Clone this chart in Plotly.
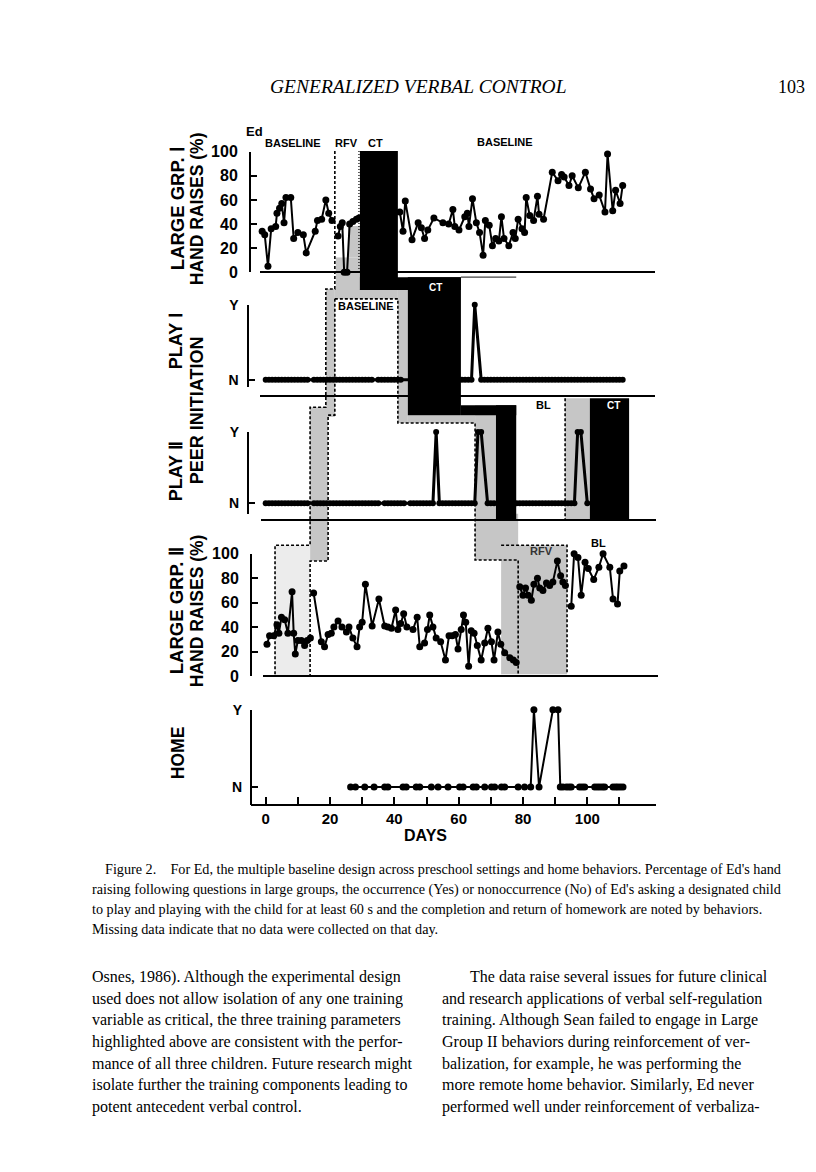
import plotly.graph_objects as go

W, H = 816, 1172

# ======================= DATA =======================
# Large Group I hand raises (%)
LG1_BL1_DAYS = [-1.1, -0.3, 0.7, 1.7, 3.1, 3.5, 4.3, 5.0, 5.7, 6.3, 7.8, 8.7, 10.0, 11.7, 12.6, 15.4, 16.1, 17.4, 18.7, 19.6, 20.6]
LG1_BL1_VALS = [34, 31, 5, 36, 38, 49, 53, 57, 41, 62, 62, 28, 33, 31, 16, 34, 43, 44, 60, 49, 43]
LG1_RFV_DAYS = [22.5, 23.2, 23.8, 24.4, 25.3, 26.1, 27.1, 28.2, 29.0]
LG1_RFV_VALS = [30, 38, 41, 0, 0, 40, 42, 44, 45]
LG1_BL2_DAYS = [41.7, 42.7, 43.4, 45.5, 47.4, 48.4, 49.4, 50.4, 52.3, 55.1, 56.9, 58.2, 58.8, 60.1, 61.9, 62.7, 63.2, 64.3,
                65.5, 66.5, 67.6, 68.3, 69.5, 70.5, 71.5, 72.5, 73.3, 74.1, 75.6, 76.9, 77.6, 78.5, 79.7, 80.5, 81.0, 82.1,
                83.3, 84.5, 85.0, 86.4, 89.1, 90.9, 92.0, 92.8, 94.3, 95.3, 97.2, 99.4, 101.0, 102.1, 103.7, 105.5, 106.3,
                107.9, 108.8, 110.2, 111.0]
LG1_BL2_VALS = [50, 34, 59, 27, 41, 37, 28, 35, 45, 41, 40, 52, 38, 35, 46, 49, 38, 61,
                41, 33, 14, 43, 39, 22, 28, 26, 46, 28, 22, 33, 28, 44, 36, 33, 62, 47,
                43, 63, 48, 44, 83, 76, 81, 79, 72, 80, 70, 83, 69, 61, 64, 50, 98,
                51, 68, 57, 72]

# Play I peer initiation (Y / N)
PLAY1_DAYS = [0, 1, 2, 3, 4, 5, 6, 7, 8, 9, 10, 11, 12, 13, 15, 16, 17, 18, 19, 20, 21, 22, 23, 24, 25, 26, 27, 28,
              29, 30, 31, 32, 33, 35, 36, 37, 38, 39, 40, 41, 42,
              61, 62, 63, 64, 65, 67, 68, 69, 70, 71, 72, 73, 74, 75, 76, 77, 78, 79, 80, 81, 82, 83, 84, 85, 86, 87,
              88, 89, 90, 91, 92, 93, 94, 95, 96, 97, 98, 99, 100, 101, 102, 103, 104, 105, 106, 107, 108, 109, 110, 111]
PLAY1_VALS = ['N', 'N', 'N', 'N', 'N', 'N', 'N', 'N', 'N', 'N', 'N', 'N', 'N', 'N', 'N', 'N', 'N', 'N',
              'N', 'N', 'N', 'N', 'N', 'N', 'N', 'N', 'N', 'N', 'N', 'N', 'N', 'N', 'N', 'N', 'N', 'N', 'N', 'N',
              'N', 'N', 'N',
              'N', 'N', 'N', 'N', 'Y', 'N', 'N', 'N', 'N', 'N', 'N', 'N', 'N', 'N', 'N', 'N', 'N', 'N', 'N', 'N',
              'N', 'N', 'N', 'N', 'N', 'N', 'N', 'N', 'N', 'N', 'N', 'N', 'N', 'N', 'N', 'N', 'N', 'N', 'N', 'N',
              'N', 'N', 'N', 'N', 'N', 'N', 'N', 'N', 'N', 'N']

# Play II peer initiation (Y / N)
PLAY2_DAYS = [0, 1, 2, 3, 4, 5, 6, 7, 8, 9, 10, 11, 12, 13, 15, 16, 17, 18, 19, 20, 21, 22, 23, 24, 25, 26, 27, 28,
              29, 30, 31, 32, 33, 34, 35, 37, 38, 39, 40, 41, 42, 43, 45, 46, 47, 48, 49, 50, 51, 52, 53, 54, 55,
              56, 57, 58, 59, 60, 61, 62, 63, 64, 65, 66, 67, 69, 70, 71,
              78, 79, 80, 81, 82, 83, 84, 85, 86, 87, 88, 89, 90, 91, 92, 93, 94, 95, 96, 97, 98, 100]
PLAY2_VALS = ['N', 'N', 'N', 'N', 'N', 'N', 'N', 'N', 'N', 'N', 'N', 'N', 'N', 'N', 'N', 'N', 'N', 'N', 'N', 'N',
              'N', 'N', 'N', 'N', 'N', 'N', 'N', 'N', 'N', 'N', 'N', 'N', 'N', 'N', 'N', 'N', 'N', 'N', 'N', 'N',
              'N', 'N', 'N', 'N', 'N', 'N', 'N', 'N', 'N', 'N', 'Y', 'N', 'N', 'N', 'N', 'N', 'N', 'N', 'N', 'N',
              'N', 'N', 'N', 'Y', 'Y', 'N', 'N', 'N',
              'N', 'N', 'N', 'N', 'N', 'N', 'N', 'N', 'N', 'N', 'N', 'N', 'N', 'N', 'N', 'N', 'N', 'N', 'N', 'Y',
              'Y', 'N']

# Large Group II hand raises (%)
LG2_BL1_DAYS = [0.4, 1.2, 2.5, 3.5, 4.1, 4.9, 5.9, 6.9, 8.2, 8.7, 9.2, 10.0, 11.1, 12.1, 12.9, 13.9]
LG2_BL1_VALS = [26, 33, 33, 42, 35, 48, 46, 35, 69, 35, 18, 29, 29, 25, 29, 31]
LG2_BL2_DAYS = [14.9, 17.3, 18.3, 19.4, 20.4, 21.2, 22.5, 23.7, 25.1, 25.9, 27.1, 28.4, 29.2, 30.0, 31.0, 33.1,
                35.2, 37.0, 38.0, 39.1, 40.4, 41.1, 42.0, 42.9, 43.9, 45.8, 47.1, 47.9, 49.4, 50.3, 51.0, 52.0,
                53.0, 54.4, 55.9, 57.0, 58.0, 59.0, 59.8, 60.8, 61.5, 62.2, 63.1, 63.9, 64.8, 65.8, 67.0, 68.1,
                69.1, 70.2, 71.0, 72.2, 73.1, 74.3, 75.9, 77.0, 77.9]
LG2_BL2_VALS = [68, 28, 24, 34, 35, 40, 45, 40, 36, 40, 31, 24, 40, 44, 75, 41,
                63, 41, 40, 39, 54, 38, 43, 51, 40, 38, 48, 24, 27, 38, 50, 40,
                31, 28, 13, 33, 33, 34, 22, 38, 50, 44, 8, 37, 35, 25, 13, 27,
                39, 28, 13, 36, 26, 19, 15, 13, 11]
LG2_RFV_DAYS = [79.0, 80.0, 80.8, 81.6, 82.6, 83.4, 84.5, 85.2, 86.2, 87.3, 88.3, 89.3, 90.7, 91.7, 92.4, 93.2]
LG2_RFV_VALS = [73, 66, 72, 66, 62, 75, 80, 72, 70, 76, 74, 77, 94, 82, 77, 74]
LG2_BL3_DAYS = [95.0, 95.9, 97.1, 98.1, 99.3, 100.3, 102.0, 103.6, 104.9, 107.0, 108.0, 109.4, 110.1, 111.4]
LG2_BL3_VALS = [57, 100, 97, 66, 93, 88, 79, 89, 100, 89, 63, 59, 86, 90]

# Home (homework returned Y / N)
HOME_DAYS = [26.4, 27.9, 30.8, 33.7, 37.0, 38.0, 42.7, 43.7, 46.8, 47.9, 51.5, 53.6, 56.7, 60.3, 61.4, 64.5, 65.5,
             68.1, 70.2, 71.2, 73.3, 74.3, 78.5, 80.5, 82.4, 83.4, 85.0, 89.3, 90.9, 91.6, 92.4, 93.5, 94.3, 95.0,
             97.6, 98.4, 99.2, 102.3, 103.1, 103.9, 104.7, 105.4, 108.0, 108.8, 109.5, 110.3, 111.1]
HOME_VALS = ['N', 'N', 'N', 'N', 'N', 'N', 'N', 'N', 'N', 'N', 'N', 'N', 'N', 'N', 'N', 'N', 'N',
             'N', 'N', 'N', 'N', 'N', 'N', 'N', 'N', 'Y', 'N', 'Y', 'Y', 'N', 'N', 'N', 'N', 'N',
             'N', 'N', 'N', 'N', 'N', 'N', 'N', 'N', 'N', 'N', 'N', 'N', 'N']

# Phase-change days
PH = {
    'lg2_a': 2.9, 'lg2_b': 13.8, 'p2_a': 18.7, 'p3_a': 19.4, 'lg1_rfv': 21.5, 'lg1_rfv_b': 25.6,
    'lg1_ct': 29.3, 'lg1_bl': 41.1, 'p1_ct': 44.2, 'p1_bl': 60.7, 'p2_rfv': 65.1, 'p2_ct': 71.6,
    'lg2_rfv_top': 73.2, 'p2_bl': 77.9, 'lg2_rfv': 78.5, 'p2_rfv2': 93.1, 'lg2_bl': 93.7,
    'p2_ct2': 100.8, 'p2_end': 113.0,
}

PCT_TICKS = [0, 20, 40, 60, 80, 100]
YN_CODE = {'N': 0, 'Y': 1}
DAY_TICKS = [0, 10, 20, 30, 40, 50, 60, 70, 80, 90, 100, 110]
DAY_TICKTEXT = ['0', '', '20', '', '40', '', '60', '', '80', '', '100', '']

# ======================= LAYOUT HELPERS =======================
X0_PX = 257.7
PX_PER_DAY = 3.216
SANS = 'Liberation Sans, Arial, Helvetica, sans-serif'
SERIF = 'Liberation Serif, Times New Roman, serif'
GRAY = '#c6c6c6'
LIGHT = '#ececec'


def day_px(d):
    return X0_PX + d * PX_PER_DAY


def px_day(px):
    return (px - X0_PX) / PX_PER_DAY


def xp(px):
    return px / W


def yp(py):
    return 1 - py / H


fig = go.Figure()


def series(days, vals, ax, lw=2.0, ms=7):
    fig.add_trace(go.Scatter(
        x=days, y=vals, mode='lines+markers', xaxis='x' + ax, yaxis='y' + ax,
        line=dict(color='black', width=lw), marker=dict(color='black', size=ms),
        cliponaxis=False, showlegend=False, hoverinfo='skip'))


series(LG1_BL1_DAYS, LG1_BL1_VALS, '')
series(LG1_RFV_DAYS, LG1_RFV_VALS, '')
series(LG1_BL2_DAYS, LG1_BL2_VALS, '')
series(PLAY1_DAYS, [YN_CODE[v] for v in PLAY1_VALS], '2', lw=3, ms=6)
series(PLAY2_DAYS, [YN_CODE[v] for v in PLAY2_VALS], '3', lw=3, ms=6)
series(LG2_BL1_DAYS, LG2_BL1_VALS, '4')
series(LG2_BL2_DAYS, LG2_BL2_VALS, '4')
series(LG2_RFV_DAYS, LG2_RFV_VALS, '4')
series(LG2_BL3_DAYS, LG2_BL3_VALS, '4')
series(HOME_DAYS, [YN_CODE[v] for v in HOME_VALS], '5', lw=2, ms=7)


# ---------------- axes ----------------
def xaxis(a, b, base_py, **kw):
    d = dict(domain=[xp(a), xp(b)], range=[px_day(a), px_day(b)], anchor='free', position=yp(base_py),
             showline=True, linecolor='black', linewidth=2, showgrid=False, zeroline=False,
             ticks='', showticklabels=False, fixedrange=True)
    d.update(kw)
    return d


def yaxis(top, bot, rng, xpos, tv, tt, fs=16, standoff=8):
    return dict(domain=[yp(bot), yp(top)], range=rng, anchor='free', position=xp(xpos),
                showline=True, linecolor='black', linewidth=2, showgrid=False, zeroline=False,
                ticks='inside', ticklen=6, tickwidth=2, tickcolor='black',
                tickvals=tv, ticktext=tt, ticklabelstandoff=standoff,
                tickfont=dict(family=SANS, size=fs, color='black', weight='bold'), fixedrange=True)


pct_text = [str(v) for v in PCT_TICKS]
layout_axes = dict(
    xaxis=xaxis(252, 647, 260),
    yaxis=yaxis(137.7, 260, [0, 100], 242, PCT_TICKS, pct_text),
    xaxis2=xaxis(252, 647, 386),
    yaxis2=yaxis(293, 376, [-0.092, 1], 239.5, [0, 1], ['N', 'Y'], fs=14, standoff=5),
    xaxis3=xaxis(253, 648, 511),
    yaxis3=yaxis(422, 505, [-0.148, 1], 240, [0, 1], ['N', 'Y'], fs=14, standoff=5),
    xaxis4=xaxis(255, 650, 670),
    yaxis4=yaxis(545.7, 669.7, [0, 100], 243, PCT_TICKS, pct_text),
    xaxis5=xaxis(243, 648, 801, ticks='inside', ticklen=7, tickwidth=2, tickcolor='black',
                 showticklabels=True, tickvals=DAY_TICKS, ticktext=DAY_TICKTEXT,
                 tickfont=dict(family=SANS, size=15, color='black', weight='bold')),
    yaxis5=yaxis(704, 801, [-0.239, 1], 243, [0, 1], ['N', 'Y'], fs=14, standoff=5),
)

# ---------------- phase shading & lines ----------------
shapes = []


def rect(d0, d1, top, bot, color):
    shapes.append(dict(type='rect', xref='paper', yref='paper', x0=xp(day_px(d0)), x1=xp(day_px(d1)),
                       y0=yp(bot), y1=yp(top), fillcolor=color, line=dict(width=0), layer='below'))


def dpath(points, dash='3px,2px', width=1.6, color='black'):
    path = 'M ' + ' L '.join('%.5f,%.5f' % (xp(day_px(d)), yp(py)) for d, py in points)
    shapes.append(dict(type='path', xref='paper', yref='paper', path=path,
                       line=dict(color=color, width=width, dash=dash), layer='below'))


# gray (reinforcement of verbalization) bands
rect(PH['lg1_rfv'] + 0.3, PH['lg1_ct'], 245, 278, GRAY)
rect(PH['lg1_rfv_b'], PH['lg1_ct'], 213, 245, GRAY)
rect(PH['p2_a'], PH['lg1_rfv'], 277, 407, GRAY)
rect(PH['lg1_rfv'], PH['lg1_bl'], 277, 287, GRAY)
rect(PH['lg1_bl'], PH['p1_ct'], 277, 413, GRAY)
rect(PH['lg2_b'], PH['p3_a'], 397, 553, GRAY)
rect(PH['lg2_a'], PH['lg2_b'], 537, 670, LIGHT)
rect(PH['p1_ct'], PH['p2_rfv'], 405, 413, GRAY)
rect(PH['p2_rfv'], PH['p2_ct'], 395, 520, GRAY)
rect(PH['p2_rfv'], PH['lg2_rfv'], 505, 552, GRAY)
rect(PH['lg2_rfv_top'], PH['lg2_bl'], 537, 668, GRAY)
rect(PH['p2_rfv2'], PH['p2_ct2'], 388, 511, GRAY)
# black (correspondence training) bands
rect(PH['lg1_ct'], PH['lg1_bl'], 137, 278, 'black')
rect(PH['lg1_ct'], PH['p1_bl'], 265, 278, 'black')
rect(PH['p1_ct'], PH['p1_bl'], 265, 405, 'black')
rect(PH['p1_bl'], PH['p2_bl'], 395, 405, 'black')
rect(PH['p2_ct'], PH['p2_bl'], 395, 512, 'black')
rect(PH['p2_ct2'], PH['p2_end'], 388, 511, 'black')

# dashed phase-change lines
dpath([(PH['lg1_rfv'], 137), (PH['lg1_rfv'], 277), (PH['p2_a'], 277), (PH['p2_a'], 397),
       (PH['lg2_b'], 397), (PH['lg2_b'], 537), (PH['lg2_a'], 537), (PH['lg2_a'], 670)])
dpath([(PH['lg1_rfv'], 287), (PH['lg1_rfv'], 405), (PH['p3_a'], 405), (PH['p3_a'], 553),
       (PH['lg2_b'], 553), (PH['lg2_b'], 670)])
dpath([(PH['lg1_rfv'], 287), (PH['lg1_bl'], 287), (PH['lg1_bl'], 413), (PH['p2_rfv'], 413),
       (PH['p2_rfv'], 552), (PH['lg2_rfv'], 552), (PH['lg2_rfv'], 668)])
dpath([(PH['lg2_rfv_top'], 537), (PH['lg2_bl'], 537), (PH['lg2_bl'], 668)])
dpath([(PH['p2_rfv2'], 388), (PH['p2_rfv2'], 511)])
dpath([(PH['lg1_ct'] - 0.3, 137), (PH['lg1_ct'] - 0.3, 260)], dash='1px,2px', width=1.2)
dpath([(PH['p1_bl'], 265), (PH['p2_bl'], 265)], dash='solid', width=1.2, color='#444')

# ---------------- text ----------------
ann = []


def txt(s, x, y, size, family=SANS, bold=True, color='black', xanchor='center', angle=0):
    f = dict(family=family, size=size, color=color)
    if bold:
        f['weight'] = 'bold'
    ann.append(dict(text=s, x=xp(x), y=yp(y), xref='paper', yref='paper', showarrow=False,
                    xanchor=xanchor, yanchor='middle', textangle=angle, font=f))


# chart labels
txt('Ed', 247, 117, 13)
txt('BASELINE', 285, 129, 11)
txt('RFV', 338, 129, 11)
txt('CT', 367, 129, 11)
txt('BASELINE', 497, 128, 11)
txt('BASELINE', 358, 294, 11)
txt('CT', 427, 275, 10, color='white')
txt('BL', 535, 395, 11)
txt('CT', 605, 395, 10, color='white')
txt('RFV', 533, 543, 11, color='#333')
txt('BL', 590, 535, 11)
# axis titles
txt('LARGE GRP. Ⅰ', 169, 195, 18.5, angle=-90)
txt('HAND RAISES (%)', 189, 196, 17.5, angle=-90)
txt('PLAY Ⅰ', 168, 330, 18, angle=-90)
txt('PEER INITIATION', 189, 400, 18, angle=-90)
txt('PLAY Ⅱ', 168, 462, 18, angle=-90)
txt('LARGE GRP. Ⅱ', 168, 604, 18.5, angle=-90)
txt('HAND RAISES (%)', 189, 604, 17.5, angle=-90)
txt('HOME', 170, 748, 17.5, angle=-90)
txt('DAYS', 418, 832, 16)

# page header
txt('<i>GENERALIZED VERBAL CONTROL</i>', 410, 72, 19.5, family=SERIF, bold=False)
txt('103', 799, 72, 18, family=SERIF, bold=False, xanchor='right')

# caption
CAPTION = [
    "Figure 2.\u2003For Ed, the multiple baseline design across preschool settings and home behaviors. Percentage of Ed's hand",
    "raising following questions in large groups, the occurrence (Yes) or nonoccurrence (No) of Ed's asking a designated child",
    "to play and playing with the child for at least 60 s and the completion and return of homework are noted by behaviors.",
    "Missing data indicate that no data were collected on that day.",
]
for i, line in enumerate(CAPTION):
    txt(line, 95 if i == 0 else 82, 866 + 20 * i, 14.2, family=SERIF, bold=False, xanchor='left')

LEFT_COL = [
    "Osnes, 1986). Although the experimental design",
    "used does not allow isolation of any one training",
    "variable as critical, the three training parameters",
    "highlighted above are consistent with the perfor-",
    "mance of all three children. Future research might",
    "isolate further the training components leading to",
    "potent antecedent verbal control.",
]
RIGHT_COL = [
    "The data raise several issues for future clinical",
    "and research applications of verbal self-regulation",
    "training. Although Sean failed to engage in Large",
    "Group II behaviors during reinforcement of ver-",
    "balization, for example, he was performing the",
    "more remote home behavior. Similarly, Ed never",
    "performed well under reinforcement of verbaliza-",
]
for i, line in enumerate(LEFT_COL):
    txt(line, 82, 975 + 22 * i, 16, family=SERIF, bold=False, xanchor='left')
for i, line in enumerate(RIGHT_COL):
    txt(line, 460 if i == 0 else 432, 975 + 22 * i, 16, family=SERIF, bold=False, xanchor='left')

fig.update_layout(
    width=W, height=H, margin=dict(l=0, r=0, t=0, b=0),
    paper_bgcolor='white', plot_bgcolor='rgba(0,0,0,0)',
    showlegend=False, shapes=shapes, annotations=ann, **layout_axes)

fig.write_html('out.html')
